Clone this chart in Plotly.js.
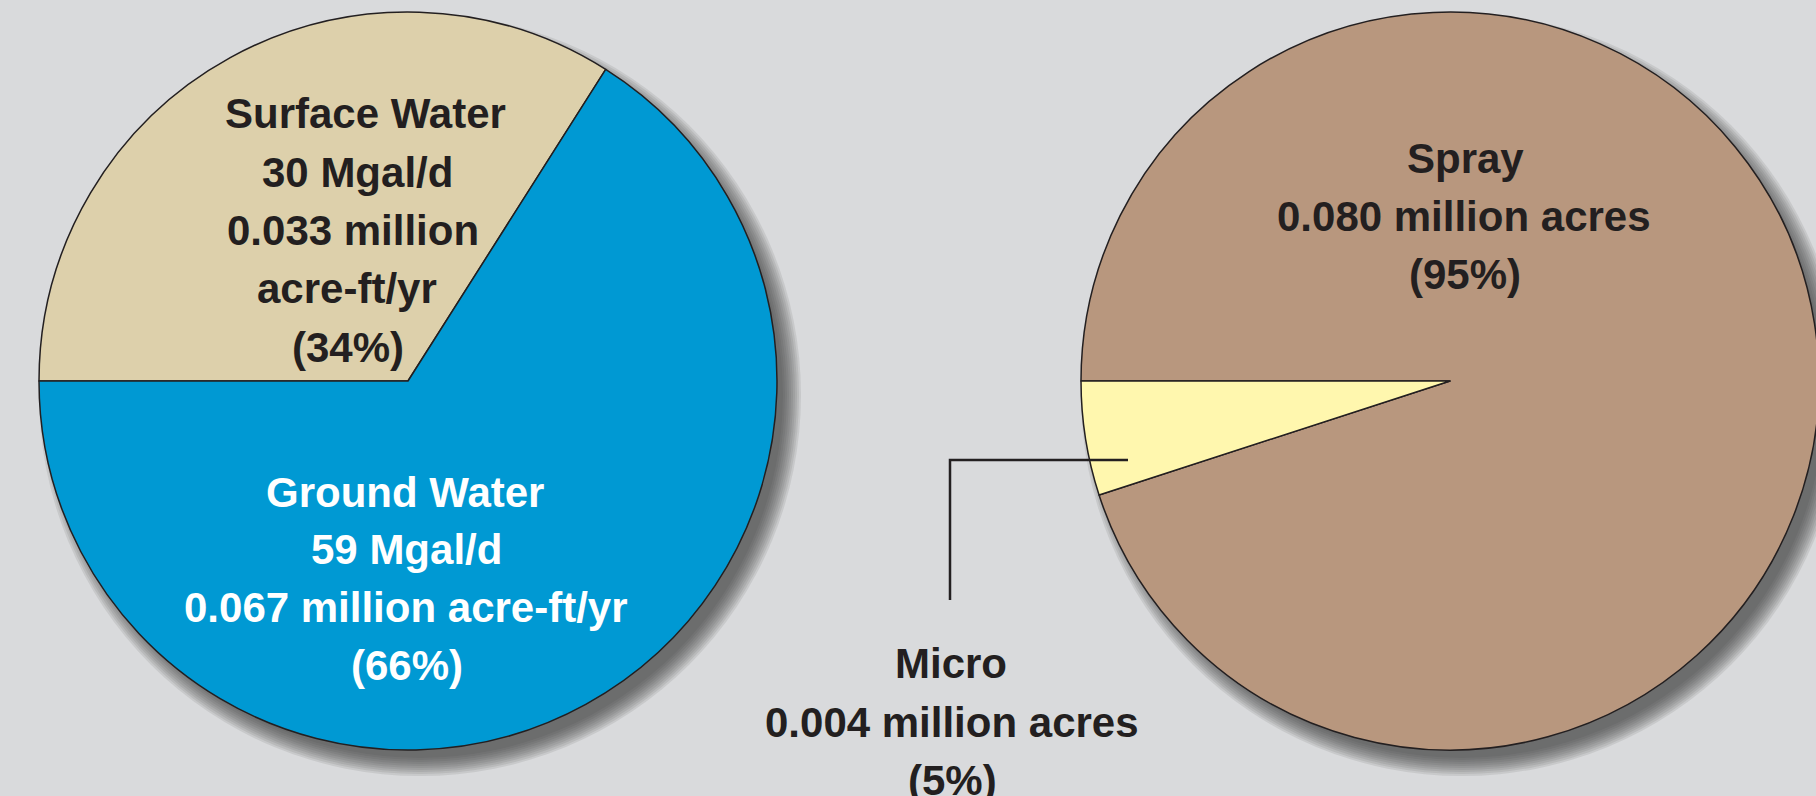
<!DOCTYPE html>
<html>
<head>
<meta charset="utf-8">
<script src="https://cdn.plot.ly/plotly-3.0.1.min.js"></script>
<style>
  html, body { margin: 0; padding: 0; overflow: hidden; background: #d9dadc; }
  #chart { width: 1822px; height: 796px; }
</style>
</head>
<body>
<div id="chart"></div>
<script>
// ---- data ----
const sourceLabels = ["Surface Water", "Ground Water"];
const sourceMgald = [30, 59];
const sourceAcreFt = [0.033, 0.067];
const sourcePercent = [34, 66];

const methodLabels = ["Spray", "Micro"];
const methodAcres = [0.080, 0.004];
const methodPercent = [95, 5];

// ---- layout helpers ----
const W = 1822, H = 796;
const FONT = '"Liberation Sans", Arial, sans-serif';
const FS = 42;
const fx = px => px / W;
const fy = py => 1 - py / H;

const leftC = {x: 408, y: 381, r: 369};
const rightC = {x: 1450, y: 381, r: 369};

function domainOf(c) {
  return {x: [fx(c.x - c.r), fx(c.x + c.r)], y: [fy(c.y + c.r), fy(c.y - c.r)]};
}

function shadowShapes(c) {
  const shapes = [];
  const ox = 12, oy = 14;
  for (let d = -6; d <= 12; d += 2) {
    const r = c.r + d;
    shapes.push({
      type: 'circle', xref: 'paper', yref: 'paper', layer: 'below',
      x0: fx(c.x + ox - r), x1: fx(c.x + ox + r),
      y0: fy(c.y + oy + r), y1: fy(c.y + oy - r),
      fillcolor: 'rgba(60,60,64,0.11)', line: {width: 0}
    });
  }
  return shapes;
}

const lineStyle = {color: '#231f20', width: 1.5};

const traces = [
  {
    type: 'pie', labels: sourceLabels, values: sourcePercent, sort: false,
    direction: 'clockwise', rotation: -90, domain: domainOf(leftC),
    marker: {colors: ['#ddd0ab', '#0099d3'], line: lineStyle},
    textinfo: 'none', hoverinfo: 'skip', showlegend: false
  },
  {
    type: 'pie', labels: methodLabels, values: methodPercent, sort: false,
    direction: 'clockwise', rotation: -90, domain: domainOf(rightC),
    marker: {colors: ['#b8977e', '#fff7ae'], line: lineStyle},
    textinfo: 'none', hoverinfo: 'skip', showlegend: false
  }
];

// one annotation per text line; (px, baseline) positions
function lines(texts, xs, baselines, color) {
  return texts.map((t, i) => ({
    text: t, xref: 'paper', yref: 'paper',
    x: fx(xs[i]), y: fy(baselines[i] - 0.3465 * FS),
    xanchor: 'center', yanchor: 'middle', showarrow: false,
    font: {family: FONT, size: FS, color: color, weight: 'bold'}
  }));
}

const annotations = [].concat(
  lines([sourceLabels[0], sourceMgald[0] + ' Mgal/d', sourceAcreFt[0].toFixed(3) + ' million',
         'acre-ft/yr', '(' + sourcePercent[0] + '%)'],
        [365, 357, 353, 347, 348], [128, 187, 245, 303, 362], '#231f20'),
  lines([sourceLabels[1], sourceMgald[1] + ' Mgal/d',
         sourceAcreFt[1].toFixed(3) + ' million acre-ft/yr', '(' + sourcePercent[1] + '%)'],
        [405, 406, 406, 407], [507, 564, 622, 680], '#ffffff'),
  lines([methodLabels[0], methodAcres[0].toFixed(3) + ' million acres', '(' + methodPercent[0] + '%)'],
        [1465, 1464, 1465], [173, 231, 289], '#231f20'),
  lines([methodLabels[1], methodAcres[1].toFixed(3) + ' million acres', '(' + methodPercent[1] + '%)'],
        [951, 952, 952], [678, 737, 795], '#231f20')
);

const shapes = [].concat(shadowShapes(leftC), shadowShapes(rightC), [
  {type: 'path', xref: 'paper', yref: 'paper', layer: 'above',
   path: 'M ' + fx(950) + ' ' + fy(600) + ' L ' + fx(950) + ' ' + fy(460) + ' L ' + fx(1128) + ' ' + fy(460),
   line: {color: '#231f20', width: 2.5}}
]);

const layout = {
  width: W, height: H,
  margin: {l: 0, r: 0, t: 0, b: 0, pad: 0},
  paper_bgcolor: '#d9dadc', plot_bgcolor: '#d9dadc',
  showlegend: false,
  annotations: annotations,
  shapes: shapes
};

Plotly.newPlot('chart', traces, layout, {displayModeBar: false, staticPlot: true});
</script>
</body>
</html>
